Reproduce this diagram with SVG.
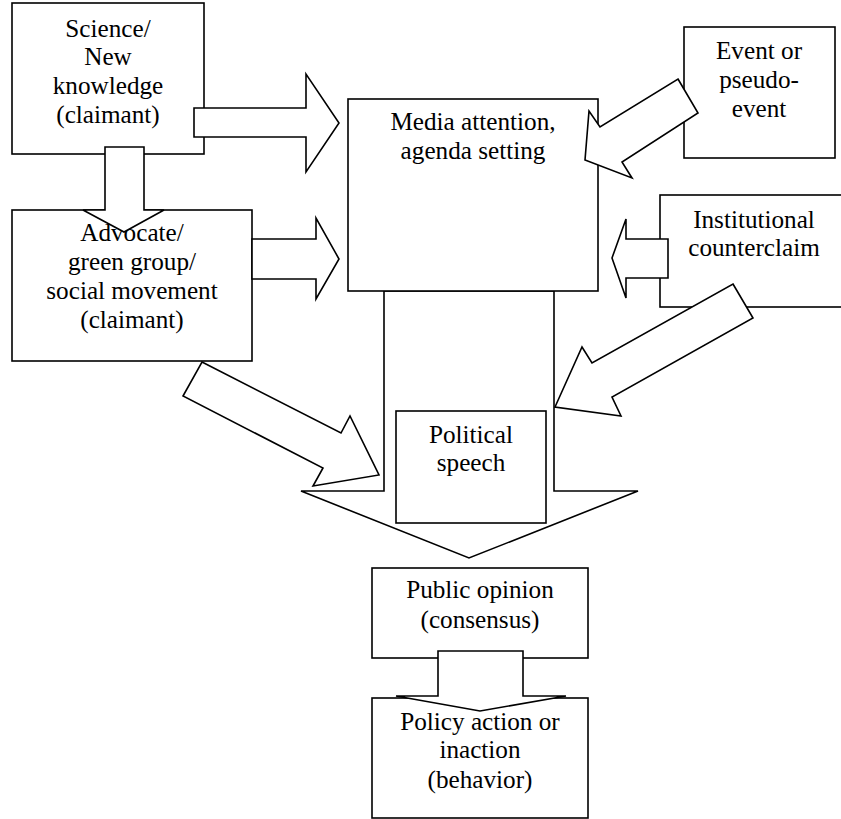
<svg xmlns="http://www.w3.org/2000/svg" width="841" height="819" viewBox="0 0 841 819">
<style>
.box{fill:#fff;stroke:#000;stroke-width:1.6}
.arr{fill:#fff;stroke:#000;stroke-width:1.6;stroke-linejoin:miter}
text{font-family:'Liberation Serif','DejaVu Serif',serif;font-size:25.2px;fill:#000;text-anchor:middle}
</style>
<rect width="841" height="819" fill="#fff"/>
<g id="connectors-under">
<polygon id="media-to-public" class="arr" points="384,291 554,291 554,491 638,491 469,558 301,491 384,491"/>
</g>
<g font-family="Liberation Serif, DejaVu Serif, serif">
<g id="media"><rect class="box" x="348" y="99" width="250" height="192"/><text x="473" y="130">Media attention,</text><text x="473" y="159">agenda setting</text></g>
<g id="political"><rect class="box" x="396" y="411" width="150" height="112"/><text x="471" y="443">Political</text><text x="471" y="471">speech</text></g>
<g id="science"><rect class="box" x="12" y="3" width="192" height="151"/><text x="108" y="37">Science/</text><text x="108" y="65">New</text><text x="108" y="94">knowledge</text><text x="108" y="123">(claimant)</text></g>
<g id="advocate"><rect class="box" x="12" y="210" width="240" height="151"/><text x="132" y="241">Advocate/</text><text x="132" y="270">green group/</text><text x="132" y="299">social movement</text><text x="132" y="328">(claimant)</text></g>
<g id="event"><rect class="box" x="684" y="27" width="151" height="131"/><text x="759" y="59">Event or</text><text x="759" y="88">pseudo-</text><text x="759" y="117">event</text></g>
<g id="institutional"><rect class="box" x="660" y="195" width="190" height="112"/><text x="754" y="228">Institutional</text><text x="754" y="256">counterclaim</text></g>
<g id="public"><rect class="box" x="372" y="568" width="216" height="90"/><text x="480" y="598">Public opinion</text><text x="480" y="628">(consensus)</text></g>
<g id="policy"><rect class="box" x="372" y="698" width="216" height="120"/><text x="480" y="730">Policy action or</text><text x="480" y="758">inaction</text><text x="480" y="788">(behavior)</text></g>
</g>
<g id="connectors">
<polygon class="arr" points="194,108 306,108 306,74 339,123 306,172 306,137 194,137"/>
<polygon class="arr" points="105,147 144,147 144,210 164,210 124,232 83,210 105,210"/>
<polygon class="arr" points="252,239 316,239 316,218 339,259 316,299 316,279 252,279"/>
<polygon class="arr" points="202,362 341,433 350,416 379,475 313,486 323,468 183,396"/>
<polygon class="arr" points="678,79 698,113 622,162 632,178 585,160 589,111 600,127"/>
<polygon class="arr" points="668,239 626,239 626,219 612,258 626,298 626,278 668,278"/>
<polygon class="arr" points="733,284 753,318 612,397 621,416 555,407 582,347 592,363"/>
<polygon class="arr" points="438,651 523,651 523,696 566,696 480,711 396,696 438,696"/>
</g>
</svg>
